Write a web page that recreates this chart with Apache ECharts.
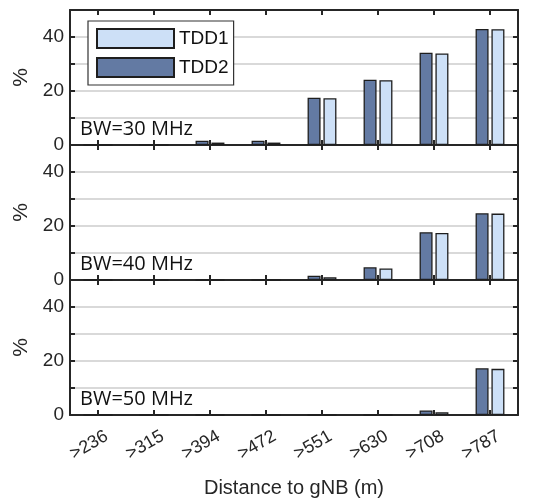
<!DOCTYPE html>
<html><head><meta charset="utf-8">
<script src="https://cdn.jsdelivr.net/npm/echarts@6/dist/echarts.min.js"></script>
<style>html,body{margin:0;padding:0;background:#fff}#c{width:543px;height:499px}</style>
</head><body><div id="c"></div>
<script>
const categories = ['>236','>315','>394','>472','>551','>630','>708','>787'];
const panelLabels = ['BW=30 MHz','BW=40 MHz','BW=50 MHz'];
const tdd1_30 = [0,0,0.9,0.9,17.3,24.0,33.9,42.9];
const tdd2_30 = [0,0,1.6,1.6,17.5,24.2,34.2,43.0];
const tdd1_40 = [0,0,0,0,1.0,4.3,17.4,24.6];
const tdd2_40 = [0,0,0,0,1.6,4.7,17.7,24.7];
const tdd1_50 = [0,0,0,0,0,0,1.0,17.1];
const tdd2_50 = [0,0,0,0,0,0,1.7,17.3];
const yTickLabels = [0,20,40];
const xTitle = 'Distance to gNB (m)';
const yTitle = '%';

const tdd1 = [tdd1_30, tdd1_40, tdd1_50];
const tdd2 = [tdd2_30, tdd2_40, tdd2_50];
const DARK = '#637aa3', LIGHT = '#cde0f7', AX = '#262626';
const tops = [10,145,280], H = 135;

const grid = [], xAxis = [], yAxis = [], series = [], title = [];
for (let i=0;i<3;i++){
  grid.push({left:70,right:25,top:tops[i],height:H});
  const isLast = i===2;
  xAxis.push({type:'category',gridIndex:i,data:categories,position:'bottom',
    axisLine:{show:true,onZero:false,lineStyle:{color:AX,width:2}},
    axisTick:{show:true,inside:true,alignWithLabel:true,length:5,lineStyle:{color:AX,width:2}},
    axisLabel:{show:isLast,rotate:30,fontSize:18,color:AX,fontFamily:'Liberation Sans',margin:25,padding:[0,-10,0,0]},
    name:isLast?xTitle:'',nameLocation:'middle',nameGap:63,
    nameTextStyle:{fontSize:20,color:AX,fontFamily:'Liberation Sans'}});
  xAxis.push({type:'category',gridIndex:i,data:categories,position:'top',
    axisLine:{show:true,onZero:false,lineStyle:{color:AX,width:2}},
    axisTick:{show:true,inside:true,alignWithLabel:true,length:5,lineStyle:{color:AX,width:2}},
    axisLabel:{show:false}});
  yAxis.push({type:'value',gridIndex:i,min:0,max:50,interval:10,position:'left',
    axisLine:{show:true,lineStyle:{color:AX,width:2}},
    axisTick:{show:true,inside:true,length:5,lineStyle:{color:AX,width:2}},
    splitLine:{show:true,lineStyle:{color:'#d9d9d9',width:2}},
    axisLabel:{fontSize:19,color:AX,fontFamily:'Liberation Sans',margin:6,
      formatter:v=>(yTickLabels.includes(v)&&!(i>0&&v===50))?String(v):''},
    name:yTitle,nameLocation:'middle',nameGap:33,
    nameTextStyle:{fontSize:21,color:AX,fontFamily:'Liberation Sans'}});
  yAxis.push({type:'value',gridIndex:i,min:0,max:50,interval:10,position:'right',
    axisLine:{show:true,lineStyle:{color:AX,width:2}},
    axisTick:{show:true,inside:true,length:5,lineStyle:{color:AX,width:2}},
    splitLine:{show:false},axisLabel:{show:false}});
  series.push({name:'TDD2',type:'bar',xAxisIndex:2*i,yAxisIndex:2*i,data:tdd2[i],
    barWidth:13,barGap:'22%',itemStyle:{color:DARK,borderColor:'#1e1e1e',borderWidth:1.3}});
  series.push({name:'TDD1',type:'bar',xAxisIndex:2*i,yAxisIndex:2*i,data:tdd1[i],
    barWidth:13,barGap:'22%',itemStyle:{color:LIGHT,borderColor:'#1e1e1e',borderWidth:1.3}});
  title.push({text:panelLabels[i],left:80,top:tops[i]+H-26,
    textStyle:{fontSize:20,fontWeight:'normal',color:'#111',fontFamily:'Open Sans'},padding:0});
}

const chart = echarts.init(document.getElementById('c'));
chart.setOption({
  animation:false,
  backgroundColor:'#fff',
  title,
  legend:{data:['TDD1','TDD2'],orient:'vertical',left:88,top:21,itemWidth:77,itemHeight:19,itemGap:8,
    padding:[7,5,7,8],backgroundColor:'#fff',borderColor:'#333',borderWidth:1.2,borderRadius:0,
    icon:'rect',textStyle:{fontSize:19,color:'#111',fontFamily:'Liberation Sans'},z:20},
  grid, xAxis, yAxis, series
});
</script></body></html>
